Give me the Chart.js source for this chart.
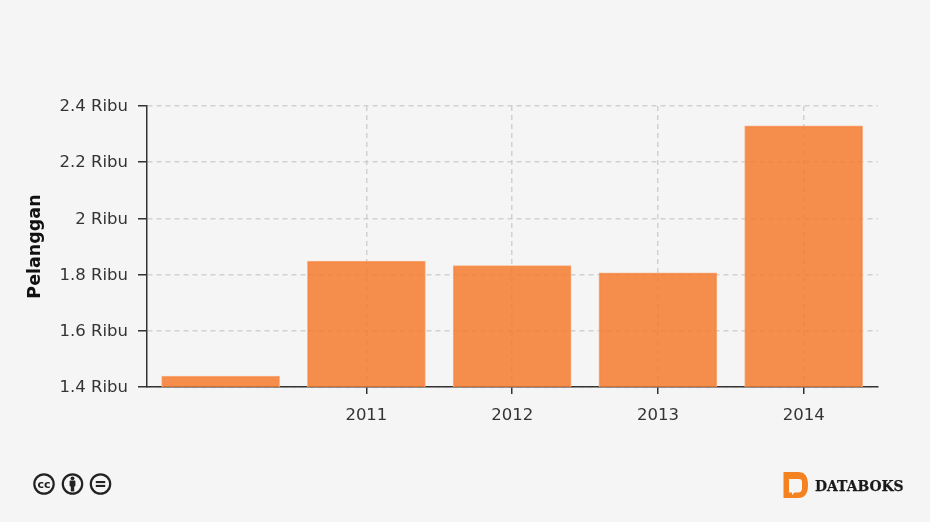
<!DOCTYPE html>
<html>
<head>
<meta charset="utf-8">
<style>
    html, body { margin: 0; padding: 0; background: #f5f5f5; }
    #wrap { position: relative; width: 930px; height: 522px; overflow: hidden; }
    #myChart { position: absolute; left: 0; top: 0; }
    #cc, #logo { position: absolute; }
    #cc { left: 32px; top: 472px; }
    #logo { left: 782px; top: 471px; }
</style>
</head>
<body>
<div id="wrap">
    <canvas id="myChart" width="930" height="522"></canvas>

    <!-- licence badges -->
    <svg id="cc" width="82" height="24" viewBox="0 0 82 24">
        <g fill="#f5f5f5" stroke="#222" stroke-width="2.2">
            <circle cx="12" cy="12" r="9.7"/>
            <circle cx="40.5" cy="12" r="9.7"/>
            <circle cx="68.5" cy="12" r="9.7"/>
        </g>
        <text x="12" y="15.5" text-anchor="middle" font-family="DejaVu Sans" font-weight="bold" font-size="11" fill="#222">cc</text>
        <circle cx="40.5" cy="6.3" r="1.9" fill="#222"/>
        <rect x="37.6" y="8.6" width="5.8" height="5.8" rx="1" fill="#222"/>
        <rect x="38.8" y="14" width="3.4" height="5.4" fill="#222"/>
        <rect x="63.8" y="9" width="9.4" height="2.1" fill="#222"/>
        <rect x="63.8" y="12.9" width="9.4" height="2.1" fill="#222"/>
    </svg>

    <!-- databoks mark -->
    <svg id="logo" width="125" height="30" viewBox="0 0 125 30">
        <path d="M1.5 1 H16 Q26 1 26 14 Q26 27 16 27 H1.5 Z" fill="#f58220"/>
        <path d="M7 8 H17 Q20 8 20 11 V17 Q20 21.5 16 21.5 H12.5 L10 24 V21.5 H7 Z" fill="#f5f5f5"/>
        <text x="33" y="20" font-family="DejaVu Serif" font-weight="bold" font-size="13.9" fill="#1a1a1a" stroke="#1a1a1a" stroke-width="0.25">DATABOKS</text>
    </svg>
</div>

<script src="https://cdn.jsdelivr.net/npm/chart.js@4/dist/chart.umd.min.js"></script>
<script>
    const years = [2010, 2011, 2012, 2013, 2014];
    const tickYears = [2011, 2012, 2013, 2014];
    const pelanggan = [1.439, 1.848, 1.832, 1.806, 2.329];
    const yTicks = [1.4, 1.6, 1.8, 2, 2.2, 2.4];

    const tickFont = { family: '"DejaVu Sans"', size: 16.5 };
    const gridColor = 'rgba(200,200,200,0.8)';
    const axisColor = '#333333';

    const ctx = document.getElementById('myChart');

    new Chart(ctx, {
        type: 'bar',
        data: {
            datasets: [{
                data: years.map((y, i) => ({ x: y, y: pelanggan[i] })),
                backgroundColor: 'rgba(244,122,46,0.85)',
                borderColor: 'rgba(248,170,120,0.9)',
                borderWidth: 1,
                barThickness: 118
            }]
        },
        options: {
            responsive: false,
            animation: false,
            layout: { padding: { top: 106, right: 52, left: 25 } },
            plugins: {
                legend: { display: false },
                tooltip: { enabled: false }
            },
            scales: {
                x: {
                    type: 'linear',
                    offset: false,
                    min: 2009.495,
                    max: 2014.51,
                    afterBuildTicks: axis => {
                        axis.ticks = tickYears.map(v => ({ value: v }));
                    },
                    afterFit: axis => { axis.height = 135; },
                    grid: {
                        offset: false,
                        color: gridColor,
                        lineWidth: 1.5,
                        tickColor: axisColor,
                        tickWidth: 1.5,
                        tickBorderDash: [],
                        tickLength: 7
                    },
                    border: { color: axisColor, width: 1.5, dash: [5, 4] },
                    ticks: {
                        font: tickFont,
                        color: '#333333',
                        padding: 12,
                        maxRotation: 0,
                        callback: v => String(v)
                    }
                },
                y: {
                    min: 1.4,
                    max: 2.4,
                    afterBuildTicks: axis => {
                        axis.ticks = yTicks.map(v => ({ value: v }));
                    },
                    afterFit: axis => { axis.width = 122; },
                    grid: {
                        color: gridColor,
                        lineWidth: 1.5,
                        tickColor: axisColor,
                        tickWidth: 1.5,
                        tickBorderDash: [],
                        tickLength: 9
                    },
                    border: { color: axisColor, width: 1.5, dash: [5, 4] },
                    title: {
                        display: true,
                        text: 'Pelanggan',
                        color: '#111111',
                        font: { family: '"DejaVu Sans"', size: 17.5, weight: 'bold' },
                        padding: 0
                    },
                    ticks: {
                        font: tickFont,
                        color: '#333333',
                        padding: 10,
                        labelOffset: 1,
                        callback: v => v + ' Ribu'
                    }
                }
            }
        }
    });
</script>
</body>
</html>
